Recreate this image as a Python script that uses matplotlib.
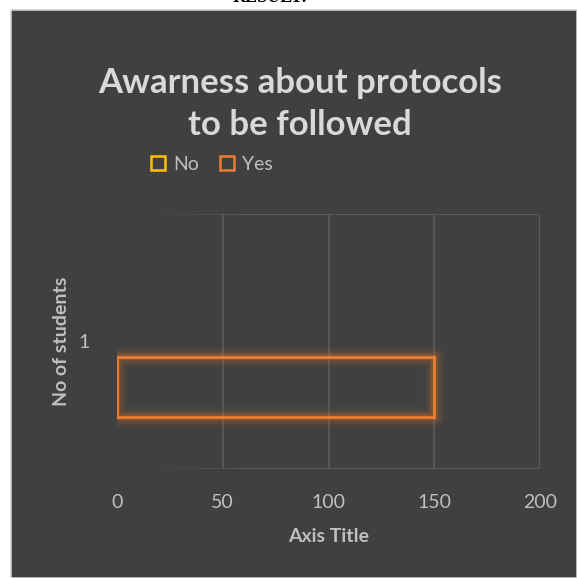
import numpy as np
import matplotlib.pyplot as plt
from matplotlib.collections import LineCollection
from matplotlib.lines import Line2D
from matplotlib.patches import Rectangle

# survey counts
categories = ['1']
series_names = ['No', 'Yes']
series_values = [0, 150]
series_colors = ['#FFC000', '#ED7D31']
x_ticks = [0, 50, 100, 150, 200]

bg = '#404040'
grid_col = '#595959'
text_col = '#bfbfbf'

fig = plt.figure(figsize=(5.77, 5.78), dpi=100)
fig.patch.set_facecolor('white')

# dark chart panel with light border
panel = Rectangle((11 / 577, 0), 1 - 11 / 577, 1 - 10 / 578, transform=fig.transFigure,
                  facecolor=bg, edgecolor='#d0d0d0', linewidth=1.2, zorder=-5)
fig.patches.append(panel)

# heading of the page, mostly cut off
fig.text(270 / 577, 1 + 2 / 578, 'RESULT:', ha='center', va='center', fontsize=13,
         family='Liberation Serif', weight='bold', color='black', zorder=-6)

ax = fig.add_axes([117 / 577, 1 - 469 / 578, (540 - 117) / 577, (469 - 214) / 578])
ax.set_facecolor('none')
ax.set_xlim(0, 200)
ax.set_ylim(0.5, 1.5)
for s in ax.spines.values():
    s.set_visible(False)

# vertical gridlines
for xv in x_ticks[1:]:
    ax.axvline(xv, color=grid_col, lw=1.3 if xv < 200 else 1.6, zorder=1)

# top and bottom borders fading out to the left
xs = np.linspace(0, 200, 201)
for yv in (0.5, 1.5):
    segs = [[(xs[i], yv), (xs[i + 1], yv)] for i in range(len(xs) - 1)]
    alphas = np.clip((xs[:-1] - 15) / 45, 0, 1)
    cols = [(0x59 / 255, 0x59 / 255, 0x59 / 255, a) for a in alphas]
    ax.add_collection(LineCollection(segs, colors=cols, linewidths=1.4, zorder=1))

# outlined bars with a soft glow
offsets = [0.178, -0.178]
bar_h = 0.235
for name, val, col, off in zip(series_names, series_values, series_colors, offsets):
    y0 = 1 + off - bar_h / 2
    if val > 0:
        for w, a in [(16, 0.04), (12, 0.06), (9, 0.08), (6, 0.12), (4, 0.16)]:
            ax.add_patch(Rectangle((0, y0), val, bar_h, fill=False, edgecolor=col,
                                   lw=w, alpha=a, zorder=2, joinstyle='round'))
    ax.barh(1 + off, val, height=bar_h, color='none', edgecolor=col,
            lw=2 if val > 0 else 0, zorder=3)

ax.set_xticks(x_ticks)
ax.set_xticklabels([str(t) for t in x_ticks])
ax.set_yticks([1])
ax.set_yticklabels(categories)
ax.tick_params(axis='both', length=0, colors=text_col, labelsize=14, pad=18)
for lab in ax.get_xticklabels() + ax.get_yticklabels():
    lab.set_family('Lato')
ax.tick_params(axis='y', pad=20)

ax.set_xlabel('Axis Title', family='Lato', weight='bold', fontsize=14, color=text_col, labelpad=12)
ax.set_ylabel('No of students', family='Lato', weight='bold', fontsize=14, color=text_col,
              labelpad=6)

fig.text(300 / 577, 1 - 104 / 578, 'Awarness about protocols\nto be followed',
         ha='center', va='center', fontsize=25, family='Lato', weight='bold',
         color='#d9d9d9', linespacing=1.35)

handles = [Line2D([], [], marker='s', ls='none', markersize=10, markerfacecolor='none',
                  markeredgecolor=c, markeredgewidth=1.8) for c in series_colors]
leg = fig.legend(handles, series_names, loc='center', bbox_to_anchor=(211 / 577, 1 - 164 / 578),
                 ncol=2, frameon=False, handlelength=0.9, handletextpad=0.3, columnspacing=1.0,
                 prop={'family': 'Lato', 'size': 14})
for t in leg.get_texts():
    t.set_color(text_col)

fig.savefig('out.png', dpi=100, facecolor=fig.get_facecolor())
